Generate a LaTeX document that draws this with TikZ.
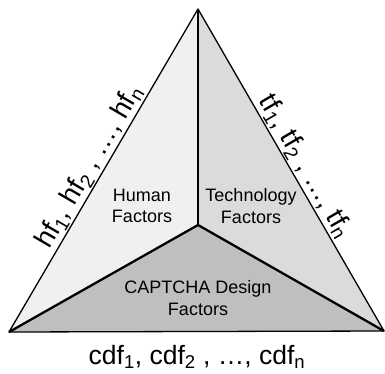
\documentclass[tikz,border=0pt]{standalone}
\usepackage{fontspec}
\setmainfont{Liberation Sans}
\begin{document}
\begin{tikzpicture}[x=1pt,y=-1pt]
\tikzset{zone/.style={align=center, font=\fontsize{18}{21.5}\selectfont}}
\tikzset{cote/.style={font=\fontsize{27.5}{32}\selectfont, sloped, above, inner sep=1.5pt}}
\useasboundingbox (0,0) rectangle (385,373);
\coordinate (S) at (198,9);
\coordinate (G) at (9,332);
\coordinate (D) at (384,331);
\coordinate (O) at (198,225);
\fill[black!6] (G) -- (S) -- (O) -- cycle;
\fill[black!14] (S) -- (D) -- (O) -- cycle;
\fill[black!25] (G) -- (O) -- (D) -- cycle;
\draw[line width=1.3pt, line join=round] (G) -- (S) -- (D) -- cycle;
\draw[line width=2.3pt] (S) -- (O);
\draw[line width=2.3pt, line join=round] (G) -- (O) -- (D);
\node[zone] (HUM) at (142,206) {Human\\Factors};
\node[zone] (TEC) at (251,206) {Technology\\Factors};
\node[zone] (CAP) at (198,298) {CAPTCHA Design\\Factors};
\path (G) -- (S) node[cote, pos=0.49] (HF) {hf\textsubscript{1}, hf\textsubscript{2} , \dots, hf\textsubscript{n}};
\path (S) -- (D) node[cote, pos=0.51] (TF) {tf\textsubscript{1}, tf\textsubscript{2} , \dots, tf\textsubscript{n}};
\node[font=\fontsize{26.5}{30}\selectfont, anchor=base, inner sep=0pt] (CDF) at (197,364.5) {cdf\textsubscript{1}, cdf\textsubscript{2} , \dots, cdf\textsubscript{n}};
\end{tikzpicture}
\end{document}
